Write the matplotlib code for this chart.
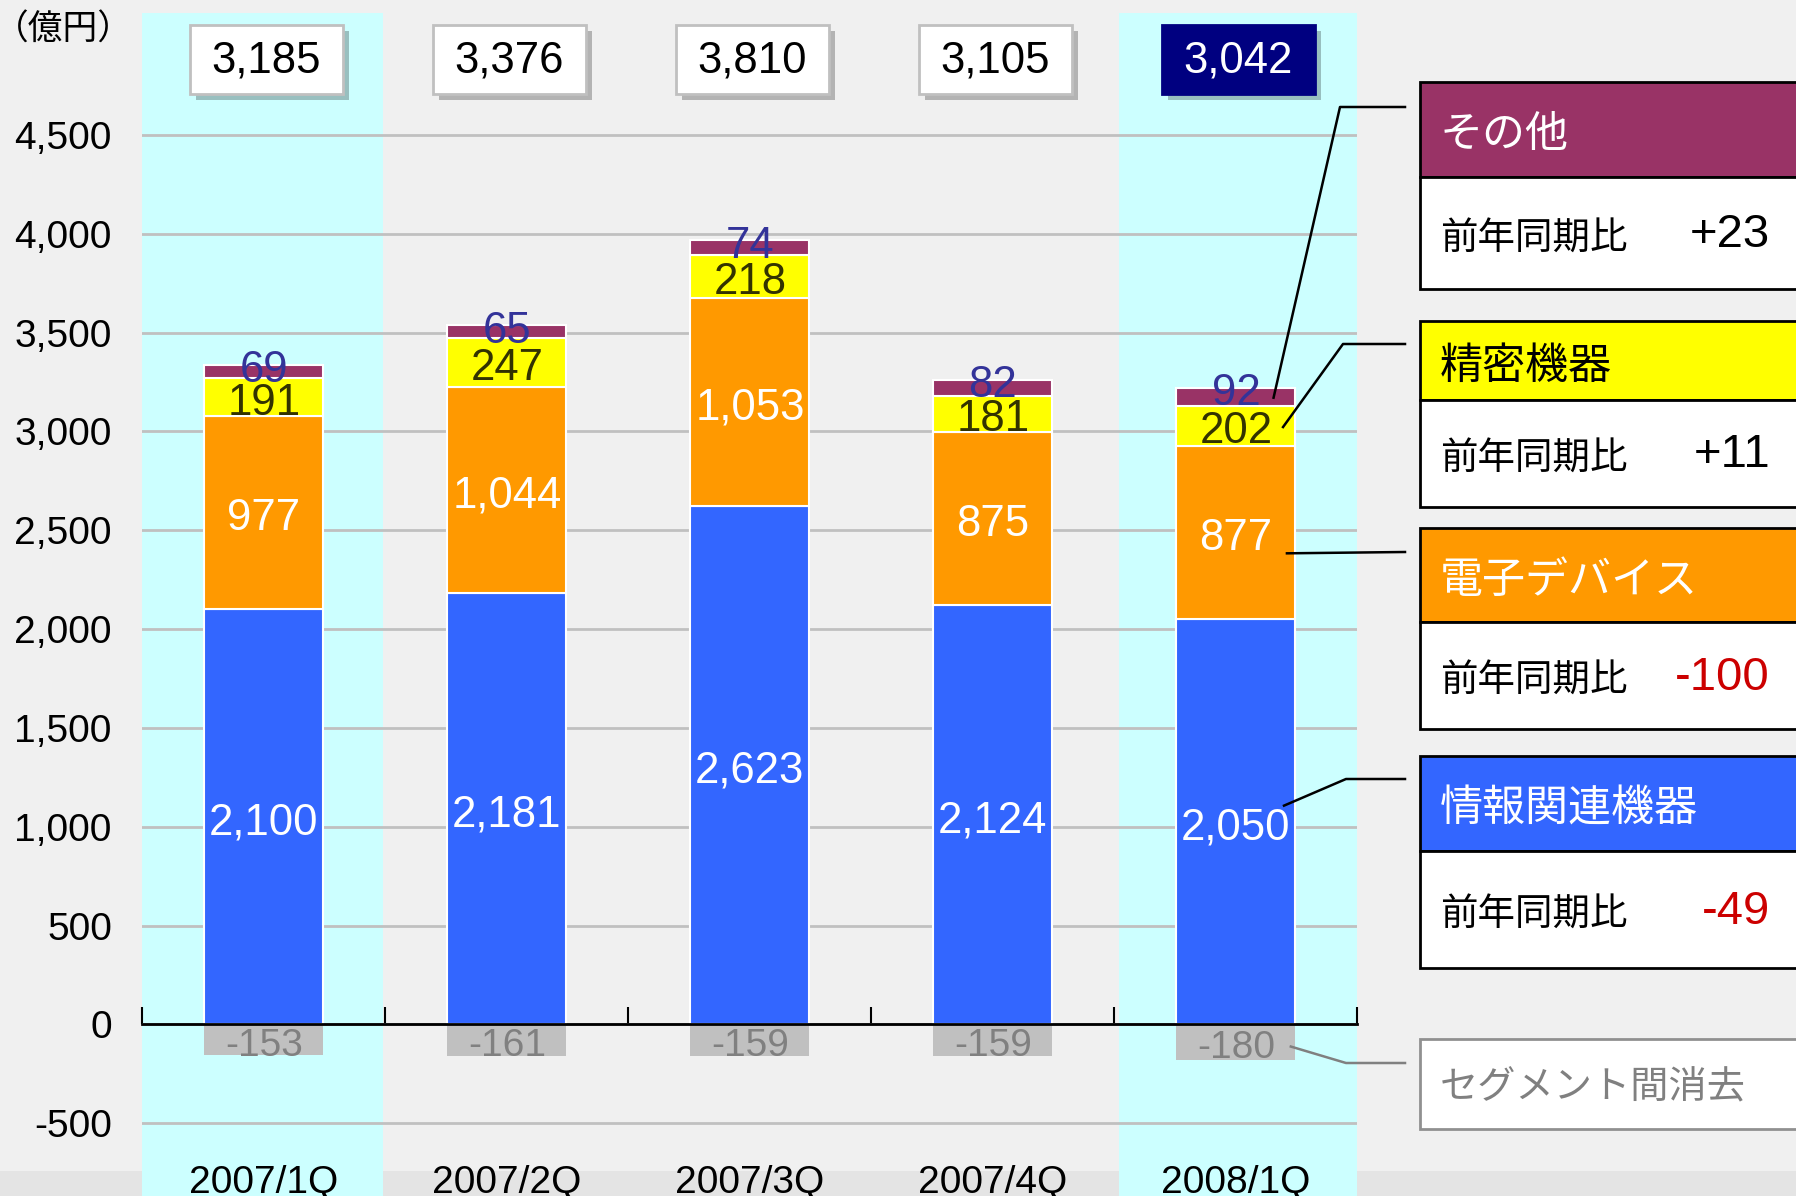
import matplotlib
matplotlib.use('Agg')
import matplotlib.pyplot as plt
from matplotlib.patches import Rectangle
from matplotlib.lines import Line2D
from matplotlib.transforms import offset_copy
import numpy as np

plt.rcParams['font.family'] = ['Liberation Sans', 'Noto Sans CJK JP', 'DejaVu Sans']

# ---------------- data ----------------
quarters = ['2007/1Q', '2007/2Q', '2007/3Q', '2007/4Q', '2008/1Q']
info = [2100, 2181, 2623, 2124, 2050]      # 情報関連機器
elec = [977, 1044, 1053, 875, 877]         # 電子デバイス
prec = [191, 247, 218, 181, 202]           # 精密機器
other = [69, 65, 74, 82, 92]               # その他
elim = [-153, -161, -159, -159, -180]      # セグメント間消去
totals = [3185, 3376, 3810, 3105, 3042]
ytick_values = [-500, 0, 500, 1000, 1500, 2000, 2500, 3000, 3500, 4000, 4500]
segment_names = ['情報関連機器', '電子デバイス', '精密機器', 'その他']
yoy_values = ['-49', '-100', '+11', '+23']
yoy_label = '前年同期比'
elim_name = 'セグメント間消去'
unit_label = '（億円）'

# ---------------- style ----------------
C_INFO, C_ELEC, C_PREC, C_OTHER, C_ELIM = '#3366ff', '#ff9900', '#ffff00', '#993366', '#c0c0c0'
BG = '#f0f0f0'
CYAN = '#ccffff'

W, H = 1796, 1196
def fx(p): return p / W
def fy(p): return 1 - p / H

fig = plt.figure(figsize=(W / 100, H / 100), dpi=100, facecolor=BG)
fig.add_artist(Rectangle((0, 0), 1, 25 / H, transform=fig.transFigure,
                         facecolor='#e4e4e4', edgecolor='none', zorder=-1))

ax = fig.add_axes([fx(142.4), 0, fx(1357.4) - fx(142.4), 1])
ax.set_xlim(-0.5, 4.5)
ax.set_ylim(-867.5, 5182)
ax.patch.set_visible(False)
for s in ['left', 'right', 'top']:
    ax.spines[s].set_visible(False)
ax.spines['bottom'].set_position(('data', 0))
ax.spines['bottom'].set_linewidth(2)
ax.spines['bottom'].set_color('black')
ax.spines['bottom'].set_zorder(3)
ax.set_xticks(np.arange(-0.5, 5, 1))
ax.tick_params(axis='x', direction='in', length=12, width=1.5, labelbottom=False)
ax.set_yticks(ytick_values)
ax.set_yticklabels([f'{v:,}' for v in ytick_values], fontsize=28)
ax.tick_params(axis='y', length=0, pad=22)
ax.yaxis.grid(True, color='#c0c0c0', lw=2)
ax.set_axisbelow(True)

# highlight bands
band_top = 1 - 13 / H
ax.axvspan(-0.5, 0.49, ymin=0, ymax=band_top, color=CYAN, lw=0, zorder=0)
ax.axvspan(3.52, 4.5, ymin=0, ymax=band_top, color=CYAN, lw=0, zorder=0)

x = np.arange(len(quarters))
bw = 0.49
info_a, elec_a, prec_a, other_a, elim_a = map(np.array, (info, elec, prec, other, elim))
b_elec = info_a
b_prec = info_a + elec_a
b_other = b_prec + prec_a
top_all = b_other + other_a

kw = dict(width=bw, edgecolor='white', linewidth=1.5, zorder=2)
ax.bar(x, info_a, color=C_INFO, **kw)
ax.bar(x, elec_a, bottom=b_elec, color=C_ELEC, **kw)
ax.bar(x, prec_a, bottom=b_prec, color=C_PREC, **kw)
ax.bar(x, other_a, bottom=b_other, color=C_OTHER, **kw)
ax.bar(x, elim_a, color=C_ELIM, width=bw, edgecolor='none', zorder=2)

lbl_tr = offset_copy(ax.transData, fig=fig, x=0, y=-6, units='dots')
for i in range(len(x)):
    ax.text(i, info_a[i] / 2, f'{info_a[i]:,}', transform=lbl_tr, ha='center', va='center', color='white', fontsize=31.5, zorder=4)
    ax.text(i, b_elec[i] + elec_a[i] / 2, f'{elec_a[i]:,}', transform=lbl_tr, ha='center', va='center', color='white', fontsize=31.5, zorder=4)
    ax.text(i, b_prec[i] + prec_a[i] / 2, f'{prec_a[i]:,}', transform=lbl_tr, ha='center', va='center', color='#333300', fontsize=31.5, zorder=4)
    ax.text(i, top_all[i], f'{other_a[i]:,}', transform=lbl_tr, ha='center', va='center', color='#333399', fontsize=31.5, zorder=4)
    ax.text(i, elim_a[i] / 2, f'{elim_a[i]:,}', transform=lbl_tr, ha='center', va='center', color='#808080', fontsize=28, zorder=4)

# category labels at the bottom
xtr = ax.get_xaxis_transform()
for i, q in enumerate(quarters):
    ax.text(i, 3 / H, q, transform=xtr, ha='center', va='baseline', fontsize=28, clip_on=False)

# total boxes
boxw = 0.627
boxh = 68.8 / H
boxy = fy(94)
for i, t in enumerate(totals):
    last = i == len(totals) - 1
    cx = i + 0.01
    ax.add_patch(Rectangle((cx - boxw / 2 + 0.0247, boxy - 0.005), boxw, boxh, transform=xtr,
                           facecolor='black', alpha=0.25, lw=0, clip_on=False, zorder=5))
    ax.add_patch(Rectangle((cx - boxw / 2, boxy), boxw, boxh, transform=xtr,
                           facecolor='#000080' if last else 'white',
                           edgecolor='#000080' if last else '#c0c0c0', lw=2, clip_on=False, zorder=6))
    ax.text(cx, fy(61), f'{t:,}', transform=xtr, ha='center', va='center', fontsize=31.5,
            color='white' if last else 'black', zorder=7)

fig.text(fx(-6), fy(30), unit_label, ha='left', va='center', fontsize=25,
         family=['Noto Sans CJK JP'])

# right-hand panels (top to bottom: その他, 精密機器, 電子デバイス, 情報関連機器)
panel_px = [(82, 177, 289), (321, 400, 507), (528, 622, 729), (756, 851, 968)]
panel_order = [3, 2, 1, 0]
seg_colors = [C_INFO, C_ELEC, C_PREC, C_OTHER]
head_text_colors = ['white', 'white', 'black', 'white']
px0 = fx(1420)
pw = 1.02 - px0
for (top, mid, bot), k in zip(panel_px, panel_order):
    fig.add_artist(Rectangle((px0, fy(mid)), pw, (mid - top) / H, transform=fig.transFigure,
                             facecolor=seg_colors[k], edgecolor='black', lw=2, clip_on=False, zorder=1))
    fig.add_artist(Rectangle((px0, fy(bot)), pw, (bot - mid) / H, transform=fig.transFigure,
                             facecolor='white', edgecolor='black', lw=2, clip_on=False, zorder=1))
    fig.text(fx(1440), fy((top + mid) / 2 + 6), segment_names[k], ha='left', va='center',
             fontsize=31, color=head_text_colors[k], family=['Noto Sans CJK JP'])
    fig.text(fx(1440), fy((mid + bot) / 2 + 6), yoy_label, ha='left', va='center',
             fontsize=27, color='black', family=['Noto Sans CJK JP'])
    v = yoy_values[k]
    fig.text(fx(1770), fy((mid + bot) / 2 + 2), v, ha='right', va='center', fontsize=34,
             color='#cc0000' if v.startswith('-') else 'black')

fig.add_artist(Rectangle((px0, fy(1129)), pw, (1129 - 1039) / H, transform=fig.transFigure,
                         facecolor='white', edgecolor='#909090', lw=2, clip_on=False, zorder=1))
fig.text(fx(1440), fy(1088), elim_name, ha='left', va='center', fontsize=27.5, color='#808080',
         family=['Noto Sans CJK JP'])

# connector lines from the last bar to panels
to_fig = ax.transData + fig.transFigure.inverted()
last = len(x) - 1
anchors = [
    # (data x, data y, horizontal y px, elbow x px, color)
    (4.155, b_other[last] + 0.45 * other_a[last], 107, 1340, 'black'),
    (4.194, b_prec[last] + 0.47 * prec_a[last], 344, 1343, 'black'),
    (4.210, b_elec[last] + 0.38 * elec_a[last], 552, None, 'black'),
    (4.198, 0.54 * info_a[last], 779, 1346, 'black'),
    (4.226, 0.62 * elim_a[last], 1063, 1346, '#808080'),
]
for dx, dy, hy, ex, col in anchors:
    axp = to_fig.transform((dx, dy))
    xs = [fx(1405)]
    ys = [fy(hy)]
    if ex is not None:
        xs.append(fx(ex)); ys.append(fy(hy))
    xs.append(axp[0]); ys.append(axp[1])
    fig.add_artist(Line2D(xs, ys, transform=fig.transFigure, color=col, lw=1.8, zorder=8))

fig.savefig('out.png', dpi=100, facecolor=BG)
